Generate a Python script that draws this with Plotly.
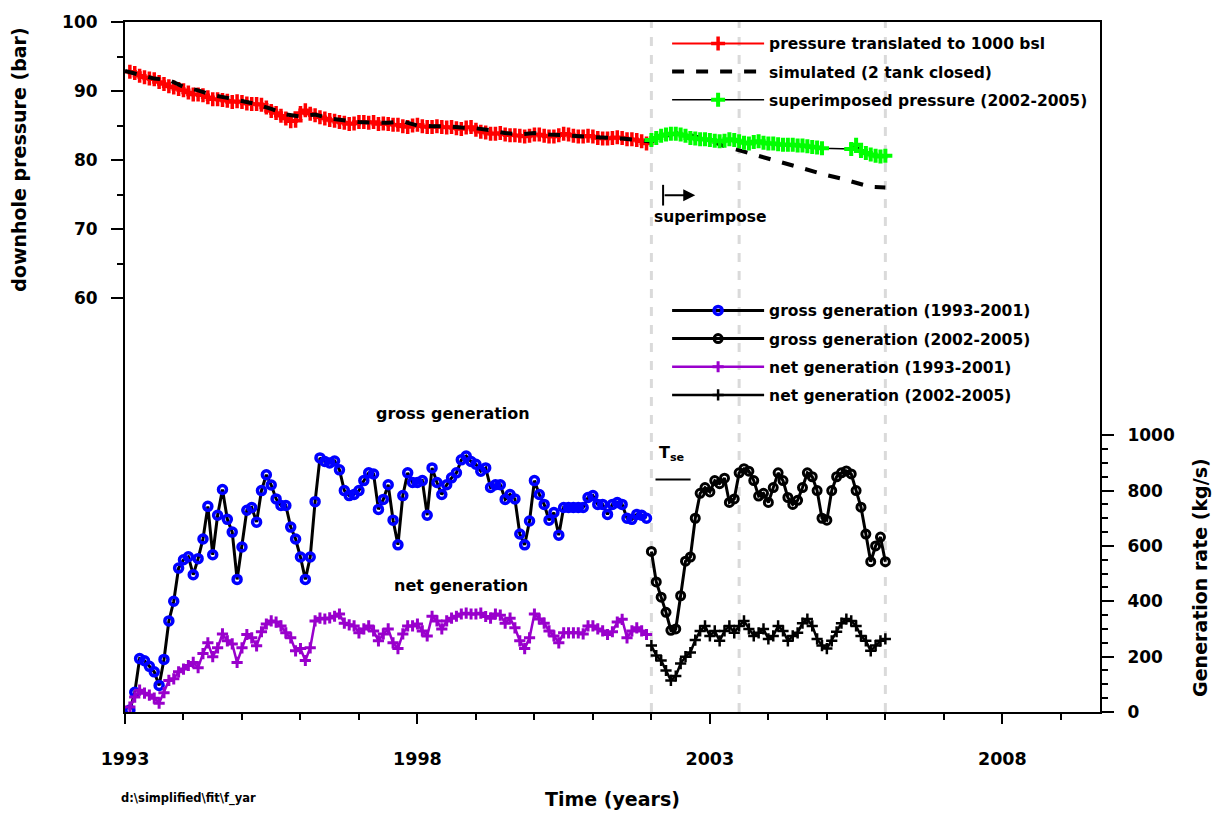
import numpy as np
import plotly.graph_objects as go

# ---- data -------------------------------------------------------------
# monthly samples; first period starts Feb 1993, second period Jan 2002
gross_1993_2001 = [
    7, 71, 193, 185, 165, 145, 96, 190, 329, 400, 520, 550,
    561, 496, 554, 625, 743, 568, 711, 804, 696, 650, 479, 596,
    729, 739, 686, 800, 857, 820, 770, 746, 746, 668, 625, 560,
    479, 560, 760, 918, 905, 900, 907, 875, 800, 782, 786, 800,
    836, 864, 860, 732, 768, 821, 693, 604, 782, 864, 829, 829,
    836, 711, 882, 829, 786, 821, 846, 864, 911, 925, 905, 895,
    870, 882, 811, 821, 821, 768, 786, 770, 643, 604, 690, 836,
    786, 750, 693, 721, 639, 739, 739, 739, 739, 739, 775, 782,
    750, 750, 714, 750, 757, 750, 700, 696, 714, 711, 700,
]
net_1993_2001 = [
    18, 54, 79, 68, 61, 50, 32, 70, 114, 120, 145, 155,
    168, 179, 160, 211, 250, 200, 232, 282, 257, 246, 179, 232,
    280, 268, 239, 290, 318, 329, 325, 311, 286, 268, 221, 229,
    186, 232, 329, 339, 336, 340, 346, 354, 321, 315, 311, 286,
    300, 311, 293, 257, 282, 300, 250, 229, 282, 311, 311, 318,
    293, 275, 346, 329, 300, 329, 339, 346, 354, 357, 354, 354,
    357, 345, 339, 354, 350, 321, 339, 304, 257, 229, 268, 354,
    336, 321, 293, 275, 250, 286, 286, 286, 286, 282, 311, 311,
    300, 293, 280, 290, 325, 335, 268, 293, 304, 293, 280,
]
pressure_1993_2001 = [
    92.8, 92.6, 92.2, 92.0, 91.8, 91.7, 91.3, 91.0, 90.7, 90.5, 90.3, 90.1,
    89.8, 89.5, 89.5, 89.4, 89.1, 88.8, 88.8, 88.7, 88.6, 88.4, 88.5, 88.4,
    88.2, 88.1, 88.1, 88.0, 87.6, 87.1, 86.8, 86.4, 86.0, 85.6, 85.7, 86.8,
    87.2, 86.7, 86.5, 86.2, 86.0, 85.8, 85.7, 85.5, 85.4, 85.2, 85.3, 85.5,
    85.5, 85.4, 85.5, 85.2, 85.3, 85.2, 85.1, 85.1, 84.9, 84.8, 85.0, 85.1,
    84.9, 84.8, 84.8, 84.9, 84.8, 84.7, 84.8, 84.6, 84.5, 84.7, 84.8, 84.4,
    84.1, 84.0, 83.8, 83.8, 83.9, 83.7, 83.6, 83.6, 83.5, 83.4, 83.5, 83.7,
    83.7, 83.5, 83.4, 83.4, 83.6, 83.8, 83.7, 83.5, 83.4, 83.4, 83.5, 83.4,
    83.2, 83.1, 83.1, 83.2, 83.3, 83.2, 83.0, 83.0, 82.9, 82.7, 82.4,
]
gross_2002_2005 = [
    580, 470, 415, 360, 295, 300, 420, 545, 560, 700, 790, 811,
    795, 836, 825, 845, 757, 770, 864, 879, 870, 836, 780, 790,
    757, 811, 864, 836, 775, 750, 765, 811, 864, 850, 800, 700,
    693, 800, 850, 864, 871, 860, 800, 740, 643, 543, 600, 632,
    543,
]
net_2002_2005 = [
    240, 204, 186, 150, 114, 130, 175, 200, 215, 260, 293, 311,
    275, 293, 257, 293, 311, 286, 311, 329, 300, 275, 286, 300,
    264, 275, 311, 293, 257, 275, 286, 321, 336, 311, 264, 240,
    229, 257, 290, 321, 336, 329, 311, 275, 257, 221, 240, 257,
    264,
]
superimposed_2002_2005 = [
    82.9, 83.2, 83.5, 83.7, 83.8, 83.8, 83.7, 83.5, 83.2, 83.1, 83.0, 83.0,
    82.9, 82.8, 82.7, 82.8, 83.0, 82.9, 82.7, 82.5, 82.4, 82.6, 82.7, 82.5,
    82.4, 82.4, 82.3, 82.2, 82.2, 82.2, 82.1, 82.1, 82.0, 81.9, 81.8, 81.7,
    None, None, None, None, None, 81.6, 82.2, 81.3, 81.0, 80.8, 80.6, 80.5,
    80.6,
]
# quarterly model output, 1993.0 - 2006.0
simulated = [
    92.9, 92.3, 91.8, 91.6,
    90.6, 90.1, 89.4, 89.0,
    88.5, 88.1, 87.4, 86.6,
    86.3, 86.6, 86.0, 85.7,
    85.5, 85.4, 85.4, 85.6,
    85.0, 84.9, 84.9, 84.7,
    84.6, 84.3, 83.9, 83.7,
    83.9, 83.7, 83.6, 83.5,
    83.4, 83.3, 83.1, 82.9,
    82.7, 83.5, 84.0, 83.4,
    82.8, 82.0, 81.4, 80.8,
    80.2, 79.6, 79.0, 78.3,
    77.8, 77.3, 76.7, 76.1,
    76.0,
]
period_years = [2002.0, 2003.5, 2006.0]
x_ticks = [1993, 1998, 2003, 2008]
p_ticks = [60, 70, 80, 90, 100]
g_ticks = [0, 200, 400, 600, 800, 1000]

t1 = 1993 + np.arange(1, 1 + len(gross_1993_2001)) / 12
t2 = 1993 + np.arange(108, 108 + len(gross_2002_2005)) / 12
t_sim = 1993 + np.arange(len(simulated)) / 4

FONT = "DejaVu Sans"
BLUE = "#0000FF"
RED = "#FF0000"
GREEN = "#00FF00"
PURPLE = "#9900CC"

fig = go.Figure()

# ---- pressure (left axis) ----------------------------------------------
fig.add_trace(go.Scatter(
    x=t1, y=pressure_1993_2001, mode="lines+markers",
    name="pressure translated to 1000 bsl",
    line=dict(color=RED, width=2),
    marker=dict(symbol="cross-thin", size=10, color=RED, line=dict(width=3.5, color=RED)),
    legend="legend", legendgroup="a", yaxis="y"))
fig.add_trace(go.Scatter(
    x=t_sim, y=simulated, mode="lines",
    name="simulated (2 tank closed)",
    line=dict(color="black", width=4, dash="dash"),
    legend="legend", legendgroup="b", yaxis="y"))
fig.add_trace(go.Scatter(
    x=t2, y=superimposed_2002_2005, mode="lines+markers", connectgaps=True,
    name="superimposed pressure (2002-2005)",
    line=dict(color="black", width=1.5),
    marker=dict(symbol="cross-thin", size=10, color=GREEN, line=dict(width=4, color=GREEN)),
    legend="legend", legendgroup="c", yaxis="y"))

# ---- generation (right axis) -------------------------------------------
fig.add_trace(go.Scatter(
    x=t1, y=gross_1993_2001, mode="lines+markers",
    name="gross generation (1993-2001)",
    line=dict(color="black", width=3),
    marker=dict(symbol="circle-open", size=8, color=BLUE, line=dict(width=3.5, color=BLUE)),
    legend="legend2", legendgroup="d", yaxis="y2"))
fig.add_trace(go.Scatter(
    x=t2, y=gross_2002_2005, mode="lines+markers",
    name="gross generation (2002-2005)",
    line=dict(color="black", width=3),
    marker=dict(symbol="circle-open", size=8, color="black", line=dict(width=3, color="black")),
    legend="legend2", legendgroup="e", yaxis="y2"))
fig.add_trace(go.Scatter(
    x=t1, y=net_1993_2001, mode="lines+markers",
    name="net generation (1993-2001)",
    line=dict(color=PURPLE, width=2.5),
    marker=dict(symbol="cross-thin", size=8, color=PURPLE, line=dict(width=3, color=PURPLE)),
    legend="legend2", legendgroup="f", yaxis="y2"))
fig.add_trace(go.Scatter(
    x=t2, y=net_2002_2005, mode="lines+markers",
    name="net generation (2002-2005)",
    line=dict(color="black", width=2.5),
    marker=dict(symbol="cross-thin", size=8, color="black", line=dict(width=2.5, color="black")),
    legend="legend2", legendgroup="g", yaxis="y2"))

# ---- period separators --------------------------------------------------
for yr in period_years:
    fig.add_shape(type="line", xref="x", yref="paper", x0=yr, x1=yr, y0=0, y1=1,
                  line=dict(color="#DADADA", width=3, dash="dash"), layer="below")

# superimpose marker: start bar and arrow
fig.add_shape(type="line", xref="x", yref="y", x0=2002.2, x1=2002.2, y0=73.4, y1=76.4,
              line=dict(color="black", width=2))
fig.add_annotation(x=2002.75, y=74.9, ax=2002.2, ay=74.9, xref="x", yref="y",
                   axref="x", ayref="y", text="", showarrow=True,
                   arrowhead=2, arrowsize=1.2, arrowwidth=2, arrowcolor="black")
fig.add_annotation(x=2003.0, y=71.7, xref="x", yref="y", text="superimpose",
                   showarrow=False, font=dict(size=15.5))

# T_se marker
fig.add_shape(type="line", xref="x", yref="y2", x0=2002.07, x1=2002.67, y0=840, y1=840,
              line=dict(color="black", width=2))
fig.add_annotation(x=2002.35, y=935, xref="x", yref="y2", text="T<sub>se</sub>",
                   showarrow=False, font=dict(size=16))

fig.add_annotation(x=1998.6, y=1080, xref="x", yref="y2", text="gross generation",
                   showarrow=False, font=dict(size=16))
fig.add_annotation(x=1998.75, y=458, xref="x", yref="y2", text="net generation",
                   showarrow=False, font=dict(size=16))

# axis titles
fig.add_annotation(x=-0.109, y=0.80, xref="paper", yref="paper", text="downhole pressure (bar)",
                   textangle=-90, xanchor="center", yanchor="middle",
                   showarrow=False, font=dict(size=19))
fig.add_annotation(x=1.103, y=0.195, xref="paper", yref="paper", text="Generation rate (kg/s)",
                   textangle=-90, xanchor="center", yanchor="middle",
                   showarrow=False, font=dict(size=19))
fig.add_annotation(x=0.5, y=-0.126, xref="paper", yref="paper", text="Time (years)",
                   xanchor="center", yanchor="middle", showarrow=False, font=dict(size=19))
fig.add_annotation(x=-0.006, y=-0.126, xref="paper", yref="paper", text="d:\\simplified\\fit\\f_yar",
                   xanchor="left", yanchor="middle", showarrow=False, font=dict(size=11.5))

legend_common = dict(xanchor="left", yanchor="top", bgcolor="rgba(0,0,0,0)",
                     font=dict(size=15.5, family=FONT, weight="bold", color="black"),
                     itemwidth=92, tracegroupgap=5, traceorder="grouped")

fig.update_layout(
    width=1223, height=816,
    margin=dict(l=125, r=123, t=14, b=104),
    paper_bgcolor="white", plot_bgcolor="white",
    font=dict(family=FONT, size=14, color="black", weight="bold"),
    showlegend=True,
    legend=dict(x=0.556, y=0.993, **legend_common),
    legend2=dict(x=0.556, y=0.606, **legend_common),
    xaxis=dict(
        range=[1993, 2009.67], tickmode="array", tickvals=x_ticks,
        ticks="outside", ticklen=10, tickwidth=2, tickcolor="black",
        ticklabelstandoff=20,
        minor=dict(dtick=1, tick0=1993, ticks="outside", ticklen=6, tickwidth=2, tickcolor="black"),
        showline=True, linecolor="black", linewidth=2, mirror=True,
        showgrid=False, zeroline=False,
        tickfont=dict(size=17.5, family=FONT, weight="bold")),
    yaxis=dict(
        range=[0, 100], tickmode="array", tickvals=p_ticks,
        ticks="outside", ticklen=12, tickwidth=2, tickcolor="black",
        ticklabelstandoff=10,
        minor=dict(tickmode="array", tickvals=[65, 75, 85, 95], ticks="outside",
                   ticklen=6, tickwidth=2, tickcolor="black"),
        showline=True, linecolor="black", linewidth=2, mirror=False,
        showgrid=False, zeroline=False,
        tickfont=dict(size=17, family=FONT, weight="bold")),
    yaxis2=dict(
        range=[0, 2493], overlaying="y", side="right",
        tickmode="array", tickvals=g_ticks,
        ticks="outside", ticklen=12, tickwidth=2, tickcolor="black",
        ticklabelstandoff=10,
        minor=dict(tickmode="array", tickvals=[v for v in range(50, 1000, 50) if v % 200],
                   ticks="outside", ticklen=6, tickwidth=2, tickcolor="black"),
        showline=True, linecolor="black", linewidth=2,
        showgrid=False, zeroline=False,
        tickfont=dict(size=17, family=FONT, weight="bold")),
)

fig.write_html("out.html")
